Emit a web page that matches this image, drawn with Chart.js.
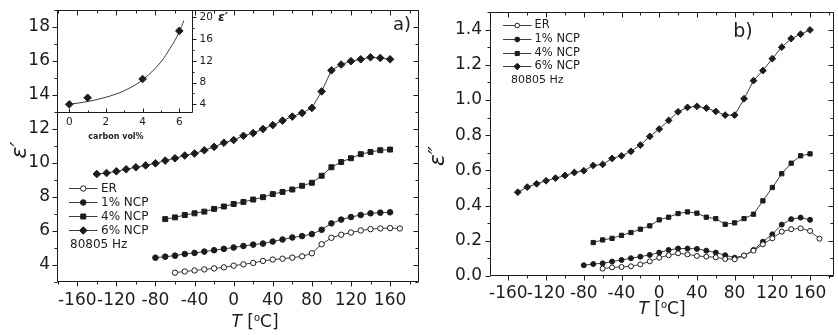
<!DOCTYPE html>
<html><head><meta charset="utf-8">
<script src="https://cdn.jsdelivr.net/npm/chart.js@4.4.1/dist/chart.umd.min.js"></script>
<style>
html,body{margin:0;padding:0;background:#fff;}
#wrap{position:relative;width:838px;height:335px;overflow:hidden;background:#fff;}
canvas{position:absolute;display:block;}
</style></head><body>
<div id="wrap">
  <canvas id="ca" width="424" height="335" style="left:0;top:0"></canvas>
  <canvas id="cb" width="418" height="335" style="left:420px;top:0"></canvas>
  <canvas id="ci" width="240" height="145" style="left:0;top:0"></canvas>
</div>
<script>
// ---------------- DATA ----------------
const T_ER = [-60,-50,-40,-30,-20,-10,0,10,20,30,40,50,60,70,80,90,100,110,120,130,140,150,160,170];
const T_1  = [-80,-70,-60,-50,-40,-30,-20,-10,0,10,20,30,40,50,60,70,80,90,100,110,120,130,140,150,160];
const T_4  = [-70,-60,-50,-40,-30,-20,-10,0,10,20,30,40,50,60,70,80,90,100,110,120,130,140,150,160];
const T_6a = [-140,-130,-120,-110,-100,-90,-80,-70,-60,-50,-40,-30,-20,-10,0,10,20,30,40,50,60,70,80,90,100,110,120,130,140,150,160];
const T_6b = [-150,-140,-130,-120,-110,-100,-90,-80,-70,-60,-50,-40,-30,-20,-10,0,10,20,30,40,50,60,70,80,90,100,110,120,130,140,150,160];

// panel a: eps'
const epsRe_ER = [3.55,3.62,3.68,3.74,3.80,3.86,3.96,4.04,4.12,4.24,4.32,4.37,4.43,4.51,4.69,5.22,5.60,5.78,5.91,6.03,6.11,6.15,6.17,6.15];
const epsRe_1  = [4.43,4.49,4.55,4.65,4.71,4.79,4.87,4.95,5.03,5.12,5.20,5.26,5.38,5.50,5.62,5.70,5.82,6.07,6.45,6.67,6.82,6.94,7.04,7.08,7.10];
const epsRe_4  = [6.70,6.80,6.94,7.04,7.14,7.30,7.44,7.59,7.71,7.85,7.99,8.17,8.30,8.44,8.66,8.84,9.25,9.75,10.06,10.28,10.52,10.65,10.75,10.79];
const epsRe_6  = [9.35,9.41,9.51,9.63,9.75,9.86,9.98,10.14,10.28,10.44,10.56,10.75,10.95,11.19,11.35,11.60,11.76,12.00,12.23,12.49,12.73,12.94,13.24,14.21,15.45,15.79,15.99,16.10,16.22,16.18,16.10];

// panel b: eps''
const epsIm_ER = [0.042,0.049,0.051,0.055,0.066,0.083,0.104,0.118,0.129,0.123,0.114,0.110,0.106,0.097,0.095,0.116,0.144,0.180,0.214,0.252,0.266,0.271,0.256,0.212];
const epsIm_1  = [0.061,0.068,0.072,0.082,0.091,0.101,0.110,0.120,0.133,0.148,0.156,0.156,0.154,0.144,0.133,0.118,0.104,0.116,0.148,0.195,0.237,0.292,0.323,0.332,0.319];
const epsIm_4  = [0.190,0.205,0.214,0.231,0.247,0.266,0.285,0.319,0.334,0.355,0.364,0.357,0.334,0.326,0.294,0.302,0.326,0.351,0.427,0.503,0.581,0.641,0.683,0.694];
const epsIm_6  = [0.476,0.505,0.524,0.541,0.556,0.571,0.588,0.598,0.628,0.634,0.668,0.683,0.708,0.744,0.793,0.835,0.884,0.933,0.958,0.964,0.954,0.935,0.914,0.914,1.007,1.110,1.167,1.235,1.300,1.349,1.374,1.398];

// inset: eps' vs carbon vol%
const vol     = [0, 1, 4, 6];
const epsVol  = [4.0, 5.2, 8.65, 17.5];
const fitVol  = [0, 1, 2, 3, 4, 5, 5.5, 6, 6.25];
const fitEps  = [4.0, 4.5, 5.3, 6.5, 8.5, 11.8, 14.3, 17.3, 19.4];

// tick labels
const tempTicks = [-160,-120,-80,-40,0,40,80,120,160];
const epsReTicks = [4,6,8,10,12,14,16,18];
const epsImTicks = [0,0.2,0.4,0.6,0.8,1.0,1.2,1.4];
const volTicks = [0,2,4,6];
const volEpsTicks = [4,8,12,16,20];

const seriesNames = ['ER','1% NCP','4% NCP','6% NCP'];
const freqLabel = '80805 Hz';

// ---------------- STYLE / HELPERS ----------------
const INK = '#1c1c1c';
const LINE = '#3c3c3c';
const FONT = 'DejaVu Sans';

function pts(X, Y){ return X.map((x,i)=>({x:x, y:Y[i]})); }

function ds(label, X, Y, style, r, open){
  return { label, data: pts(X,Y), borderColor: LINE, borderWidth: 1,
    pointStyle: style, pointRadius: r, pointHoverRadius: r,
    pointBackgroundColor: open ? '#fff' : INK, pointBorderColor: INK, pointBorderWidth: 1,
    tension: 0, showLine: true, fill: false };
}

function marker(ctx, style, x, y, r, open){
  ctx.beginPath();
  if (style === 'circle') ctx.arc(x, y, r, 0, Math.PI*2);
  else if (style === 'rect') { const s = r*Math.SQRT1_2; ctx.rect(x-s, y-s, 2*s, 2*s); }
  else { ctx.moveTo(x-r, y); ctx.lineTo(x, y-r); ctx.lineTo(x+r, y); ctx.lineTo(x, y+r); ctx.closePath(); }
  ctx.fillStyle = open ? '#fff' : INK; ctx.fill();
  ctx.strokeStyle = INK; ctx.lineWidth = 1; ctx.stroke();
}

function tickList(scale, major){
  const half = (major[1]-major[0])/2;
  let start = major[0];
  while (start - half >= scale.min - 1e-9) start -= half;
  const out = [];
  for (let k = 0; ; k++) {
    const v = start + k*half;
    if (v > scale.max + 1e-9) break;
    out.push({v, major: major.some(m => Math.abs(m - v) < 1e-6)});
  }
  return out;
}

// frame + ticks: sides = {bottom:'out'|'in'|null, top, left, right}
function framePlugin(xMajor, yMajor, sides, lens){
  return { id:'frame_'+Math.random().toString(36).slice(2), afterDraw(chart){
    const ctx = chart.ctx, a = chart.chartArea;
    const xs = chart.scales.x, ys = chart.scales.y;
    const L = Math.round(a.left)+0.5, R = Math.round(a.right)-0.5;
    const T = Math.round(a.top)+0.5, B = Math.round(a.bottom)-0.5;
    ctx.save();
    ctx.strokeStyle = INK; ctx.lineWidth = 1;
    ctx.beginPath();
    ctx.moveTo(L,T); ctx.lineTo(R,T); ctx.lineTo(R,B); ctx.lineTo(L,B); ctx.closePath();
    ctx.stroke();
    const MJ = lens[0], MN = lens[1];
    ctx.beginPath();
    tickList(xs, xMajor).forEach(t => {
      const p = Math.round(xs.getPixelForValue(t.v)) + 0.5;
      const len = t.major ? MJ : MN;
      if (sides.bottom === 'out') { ctx.moveTo(p, B); ctx.lineTo(p, B+len); }
      if (sides.bottom === 'in')  { ctx.moveTo(p, B); ctx.lineTo(p, B-len); }
      if (sides.top === 'in')     { ctx.moveTo(p, T); ctx.lineTo(p, T+len); }
    });
    tickList(ys, yMajor).forEach(t => {
      const p = Math.round(ys.getPixelForValue(t.v)) + 0.5;
      const len = t.major ? MJ : MN;
      if (sides.left === 'out')  { ctx.moveTo(L, p); ctx.lineTo(L-len, p); }
      if (sides.right === 'in')  { ctx.moveTo(R, p); ctx.lineTo(R-len, p); }
      if (sides.right === 'out') { ctx.moveTo(R, p); ctx.lineTo(R+len, p); }
    });
    ctx.stroke();
    ctx.restore();
  }};
}

function legendPlugin(items, geo){
  return { id:'leg_'+Math.random().toString(36).slice(2), afterDraw(chart){
    const ctx = chart.ctx;
    ctx.save();
    items.forEach((it, i) => {
      const y = geo.rows[i];
      ctx.strokeStyle = LINE; ctx.lineWidth = 1;
      ctx.beginPath(); ctx.moveTo(geo.x1, Math.round(y)+0.5); ctx.lineTo(geo.x2, Math.round(y)+0.5); ctx.stroke();
      marker(ctx, it.style, (geo.x1+geo.x2)/2, Math.round(y)+0.5, it.r, it.open);
      ctx.fillStyle = INK; ctx.font = geo.font; ctx.textAlign = 'left'; ctx.textBaseline = 'middle';
      ctx.fillText(it.label, geo.tx, y+0.5);
    });
    ctx.font = geo.ffont; ctx.fillText(freqLabel, geo.fx, geo.fy);
    ctx.restore();
  }};
}

function textPlugin(items){
  return { id:'txt_'+Math.random().toString(36).slice(2), afterDraw(chart){
    const ctx = chart.ctx;
    items.forEach(it => {
      ctx.save();
      ctx.translate(it.x, it.y);
      if (it.rot) ctx.rotate(it.rot);
      ctx.fillStyle = INK; ctx.textBaseline = 'middle'; ctx.textAlign = 'left';
      const ws = it.parts.map(p => { ctx.font = p.f; return ctx.measureText(p.t).width; });
      const total = ws.reduce((s,w)=>s+w, 0);
      let x = it.align === 'left' ? 0 : -total/2;
      it.parts.forEach((p, i) => { ctx.font = p.f; ctx.fillText(p.t, x, p.dy || 0); x += ws[i]; });
      ctx.restore();
    });
  }};
}

function axisCfg(min, max, ticks, fmt, size, pad, dim, extra){
  return Object.assign({
    type: 'linear', min, max, bounds: 'data',
    afterBuildTicks: s => { s.ticks = ticks.map(v => ({value: v})); },
    afterFit: s => {
      if (dim.h !== undefined) s.height = dim.h;
      if (dim.w !== undefined) s.width = dim.w;
      s.paddingTop = 0; s.paddingBottom = 0; s.paddingLeft = 0; s.paddingRight = 0;
    },
    grid: { display: false, drawTicks: false, tickLength: 0 }, border: { display: false },
    ticks: { font: { family: FONT, size: size }, color: INK, padding: pad,
             autoSkip: false, maxRotation: 0, minRotation: 0, callback: v => fmt(v) }
  }, extra || {});
}

function baseOpts(pad, scales){
  return { responsive: false, animation: false, devicePixelRatio: 1,
    layout: { padding: pad },
    plugins: { legend: { display: false }, tooltip: { enabled: false } },
    scales };
}

const Tlabel = (x, y) => ({ x, y, parts: [
  { t: 'T', f: 'italic 17px ' + FONT },
  { t: ' [', f: '17px ' + FONT },
  { t: 'o', f: '10px ' + FONT, dy: -5 },
  { t: 'C]', f: '17px ' + FONT }
]});

// ---------------- PANEL a ----------------
new Chart(document.getElementById('ca'), {
  type: 'line',
  data: { datasets: [
    ds(seriesNames[0], T_ER, epsRe_ER, 'circle', 2.7, true),
    ds(seriesNames[1], T_1,  epsRe_1,  'circle', 2.8, false),
    ds(seriesNames[2], T_4,  epsRe_4,  'rect',   3.5, false),
    ds(seriesNames[3], T_6a, epsRe_6,  'rectRot',3.8, false)
  ]},
  options: baseOpts({ left: 0, top: 10, right: 3, bottom: 0 }, {
    x: axisCfg(-180.7, 189.8, tempTicks, v => String(v), 17, 8, { h: 53 }),
    y: axisCfg(3, 19, epsReTicks, v => String(v), 17, 7, { w: 57 })
  }),
  plugins: [
    framePlugin(tempTicks, epsReTicks, { bottom: 'out', top: 'in', left: 'out', right: 'in' }, [5, 3]),
    legendPlugin([
      { label: seriesNames[0], style: 'circle', r: 2.7, open: true },
      { label: seriesNames[1], style: 'circle', r: 2.8 },
      { label: seriesNames[2], style: 'rect', r: 3.5 },
      { label: seriesNames[3], style: 'rectRot', r: 3.8 }
    ], { x1: 69, x2: 97.5, tx: 101, rows: [188, 202, 216, 230], font: '12px ' + FONT,
         ffont: '12px ' + FONT, fx: 70, fy: 245 }),
    textPlugin([
      Tlabel(255, 323),
      { x: 20, y: 150, rot: -Math.PI/2, parts: [{ t: 'ε′', f: 'italic 22px ' + FONT }] },
      { x: 402, y: 25, parts: [{ t: 'a)', f: '18px ' + FONT }] }
    ])
  ]
});

// ---------------- PANEL b ----------------
new Chart(document.getElementById('cb'), {
  type: 'line',
  data: { datasets: [
    ds(seriesNames[0], T_ER, epsIm_ER, 'circle', 2.5, true),
    ds(seriesNames[1], T_1,  epsIm_1,  'circle', 2.5, false),
    ds(seriesNames[2], T_4,  epsIm_4,  'rect',   3.0, false),
    ds(seriesNames[3], T_6b, epsIm_6,  'rectRot',3.4, false)
  ]},
  options: baseOpts({ left: 0, top: 12, right: 0.5, bottom: 0 }, {
    x: axisCfg(-179.5, 185, tempTicks, v => String(v), 17, 7, { h: 59 }),
    y: axisCfg(0, 1.5, epsImTicks, v => v.toFixed(1), 17, 8, { w: 70 })
  }),
  plugins: [
    framePlugin(tempTicks, epsImTicks, { bottom: 'out', top: 'in', left: 'out', right: 'in' }, [5, 3]),
    legendPlugin([
      { label: seriesNames[0], style: 'circle', r: 2.3, open: true },
      { label: seriesNames[1], style: 'circle', r: 2.4 },
      { label: seriesNames[2], style: 'rect', r: 2.9 },
      { label: seriesNames[3], style: 'rectRot', r: 3.3 }
    ], { x1: 83, x2: 111.5, tx: 114.5, rows: [24.5, 38.5, 52.5, 66], font: '11.5px ' + FONT,
         ffont: '11px ' + FONT, fx: 91, fy: 80 }),
    textPlugin([
      Tlabel(242, 310),
      { x: 18, y: 156, rot: -Math.PI/2, parts: [{ t: 'ε″', f: 'italic 22px ' + FONT }] },
      { x: 323, y: 32, parts: [{ t: 'b)', f: '19px ' + FONT }] }
    ])
  ]
});

// ---------------- INSET ----------------
new Chart(document.getElementById('ci'), {
  type: 'line',
  data: { datasets: [
    { label: 'points', data: pts(vol, epsVol), showLine: false, pointStyle: 'rectRot', pointRadius: 3.8,
      pointBackgroundColor: INK, pointBorderColor: INK, pointBorderWidth: 1 },
    { label: 'fit', data: pts(fitVol, fitEps), showLine: true, borderColor: LINE, borderWidth: 1,
      pointRadius: 0, cubicInterpolationMode: 'monotone', fill: false }
  ]},
  options: baseOpts({ left: 57, top: 10, right: 0, bottom: 0 }, {
    x: axisCfg(-0.67, 6.72, volTicks, v => String(v), 10.5, 3, { h: 32 }),
    y: axisCfg(2.4, 21.34, volEpsTicks, v => String(v), 10.5, 7, { w: 47.5 }, { position: 'right' })
  }),
  plugins: [
    framePlugin(volTicks, volEpsTicks, { bottom: 'in', right: 'out' }, [4, 2]),
    textPlugin([
      { x: 116, y: 137, parts: [{ t: 'carbon vol%', f: 'bold 8px ' + FONT }] },
      { x: 223, y: 17.5, parts: [{ t: 'ε′', f: 'italic bold 12px ' + FONT }] }
    ])
  ]
});
</script>
</body></html>
